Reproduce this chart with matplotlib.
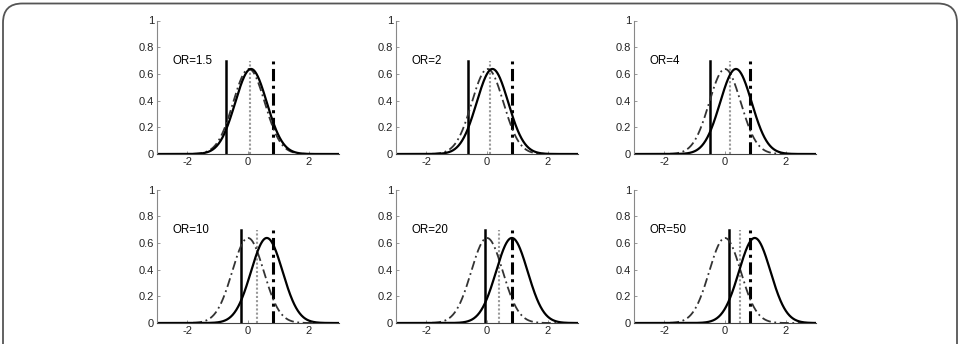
import matplotlib.pyplot as plt
import numpy as np
from matplotlib.patches import FancyBboxPatch

plt.rcParams['font.family'] = ['Liberation Sans', 'DejaVu Sans']

odds_ratios = ['1.5', '2', '4', '10', '20', '50']
solid_vline = [-0.72, -0.62, -0.48, -0.24, -0.07, 0.14]
dotted_vline = [0.07, 0.09, 0.17, 0.31, 0.38, 0.50]
dashdot_vline = [0.84, 0.82, 0.83, 0.84, 0.82, 0.82]
solid_mean = [0.10, 0.18, 0.36, 0.62, 0.82, 0.98]
dashdot_mean = [0.03, 0.02, 0.0, 0.0, 0.0, 0.0]
curve_peak = 0.637
curve_width = 0.52
vline_height = 0.7


def bell(x, mu):
    return curve_peak * np.exp(-0.5 * ((x - mu) / curve_width) ** 2)


W, H = 961, 344
fig = plt.figure(figsize=(W / 100, H / 100), dpi=100)

# rounded frame around the figure, bottom edge falls outside the image
frame = FancyBboxPatch((3 / W, -0.2), (W - 7) / W, 1.2 - 3.5 / H,
                       boxstyle='round,pad=0,rounding_size=0.02',
                       transform=fig.transFigure, fill=False,
                       edgecolor='#555555', linewidth=1.3,
                       mutation_aspect=W / H)
fig.patches.append(frame)

col_left = [157, 396, 634]
row_bottom = [154, 323]
ax_w = 182
ax_h = 133.5

x = np.linspace(-3, 3, 400)

for i, orv in enumerate(odds_ratios):
    r, c = divmod(i, 3)
    left = col_left[c] / W
    bottom = (H - row_bottom[r]) / H
    ax = fig.add_axes([left, bottom, ax_w / W, ax_h / H])

    ax.plot([solid_vline[i]] * 2, [0, vline_height], color='black', lw=1.8)
    ax.plot([dotted_vline[i]] * 2, [0, vline_height], color='#999999',
            lw=1.5, linestyle=(0, (1, 1)))
    ax.plot([dashdot_vline[i]] * 2, [0, vline_height], color='black',
            lw=2.2, linestyle=(0, (4, 1.5, 1, 1.5)))

    ax.plot(x, bell(x, dashdot_mean[i]), color='#333333',
            lw=1.3, linestyle=(0, (5, 2, 1, 2)))
    ax.plot(x, bell(x, solid_mean[i]), color='black', lw=1.6)

    ax.text(-2.5, 0.70, 'OR=' + orv, fontsize=8.3, va='center', ha='left')

    ax.set_xlim(-3, 3)
    ax.set_ylim(0, 1)
    ax.set_xticks([-2, 0, 2])
    ax.set_xticklabels(['-2', '0', '2'])
    ax.set_yticks([0, 0.2, 0.4, 0.6, 0.8, 1])
    ax.set_yticklabels(['0', '0.2', '0.4', '0.6', '0.8', '1'])
    ax.tick_params(direction='in', length=2.5, width=0.6, labelsize=8,
                   colors='#888888', labelcolor='#222222', pad=2)
    for side in ['top', 'right']:
        ax.spines[side].set_visible(False)
    ax.spines['left'].set_color('#888888')
    ax.spines['left'].set_linewidth(0.8)
    ax.spines['bottom'].set_color('#444444')
    ax.spines['bottom'].set_linewidth(0.8)
    ax.patch.set_alpha(0)

fig.savefig('out.png', dpi=100)
